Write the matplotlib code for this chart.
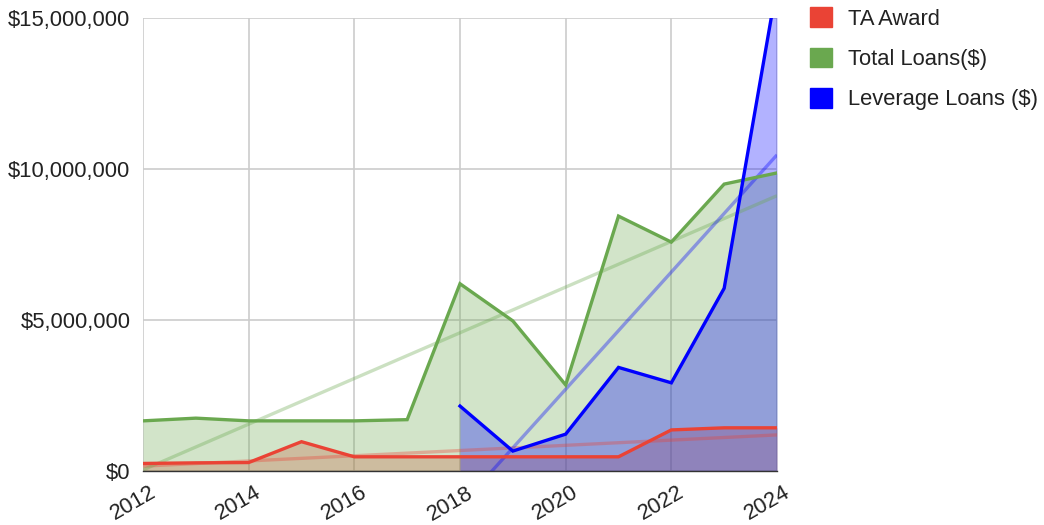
import numpy as np
import matplotlib
matplotlib.use("Agg")
import matplotlib.pyplot as plt
from matplotlib.patches import Patch
from matplotlib.ticker import FuncFormatter
from matplotlib.transforms import ScaledTranslation

years = [2012, 2013, 2014, 2015, 2016, 2017, 2018, 2019, 2020, 2021, 2022, 2023, 2024]
ta_award = [250000, 270000, 280000, 970000, 470000, 470000, 470000, 470000, 470000, 470000, 1360000, 1430000, 1430000]
total_loans = [1660000, 1750000, 1660000, 1660000, 1660000, 1700000, 6200000, 4970000, 2850000, 8440000, 7580000, 9500000, 9870000]
leverage_loans = [np.nan, np.nan, np.nan, np.nan, np.nan, np.nan, 2150000, 660000, 1220000, 3430000, 2920000, 6050000, 16100000]
series_names = ["TA Award", "Total Loans($)", "Leverage Loans ($)"]
colors = ["#ea4335", "#6aa84f", "#0000ff"]
xticks = [2012, 2014, 2016, 2018, 2020, 2022, 2024]
yticks = [0, 5000000, 10000000, 15000000]

plt.rcParams['font.family'] = ['Liberation Sans', 'DejaVu Sans']
FS = 15.8

fig = plt.figure(figsize=(10.44, 5.25), dpi=100)
ax = fig.add_axes([143/1044, 1 - 471/525, (777-143)/1044, (471-18)/525])

x = np.array(years, dtype=float)
data = [np.array(ta_award, float), np.array(total_loans, float), np.array(leverage_loans, float)]

# fills
for y, c in zip(data, colors):
    m = ~np.isnan(y)
    ax.fill_between(x[m], 0, y[m], color=c, alpha=0.3, linewidth=0, zorder=1)

# trendlines
for y, c in zip(data, colors):
    m = ~np.isnan(y)
    k, b = np.polyfit(x[m], y[m], 1)
    xs = np.array([x[m][0], x[m][-1]])
    ax.plot(xs, k * xs + b, color=c, alpha=0.35, linewidth=2.4, zorder=2, solid_capstyle='butt')

# lines
for y, c in zip(data, colors):
    ax.plot(x, y, color=c, linewidth=2.4, zorder=3, solid_joinstyle='miter')

ax.set_xlim(2012, 2024)
ax.set_ylim(0, 15000000)
ax.set_xticks(xticks)
ax.set_yticks(yticks)
ax.yaxis.set_major_formatter(FuncFormatter(lambda v, p: "${:,.0f}".format(v)))
ax.grid(True, color="#cccccc", linewidth=1.2, zorder=0)
ax.set_axisbelow(True)
for s in ["top", "right", "left"]:
    ax.spines[s].set_visible(False)
ax.spines["bottom"].set_color("#333333")
ax.spines["bottom"].set_linewidth(1.0)
ax.spines["bottom"].set_zorder(4)
ax.tick_params(axis='both', length=0, labelsize=FS, colors="#222222")
ax.tick_params(axis='y', pad=9)
ax.tick_params(axis='x', pad=8)

offset = ScaledTranslation(6/100, 0, fig.dpi_scale_trans)
for lab in ax.get_xticklabels():
    lab.set_rotation(30)
    lab.set_ha('right')
    lab.set_va('top')
    lab.set_rotation_mode('anchor')
    lab.set_transform(lab.get_transform() + offset)

handles = [Patch(facecolor=c, edgecolor=c) for c in colors]
leg = fig.legend(handles, series_names, loc='upper left', bbox_to_anchor=(796/1044, 1.0 + 7/525),
                 frameon=False, fontsize=FS, handlelength=1.0, handleheight=1.0,
                 labelspacing=0.82, handletextpad=0.73, borderaxespad=0.25)
for t in leg.get_texts():
    t.set_color("#222222")

fig.savefig("out.png", dpi=100)
